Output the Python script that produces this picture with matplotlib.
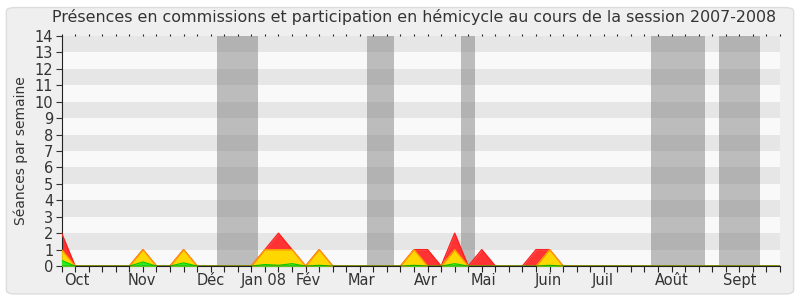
import numpy as np
import matplotlib
matplotlib.use("Agg")
import matplotlib.pyplot as plt
from matplotlib.patches import FancyBboxPatch

# weekly values, session 2007-2008 (week 0 = début octobre)
weeks = np.arange(54)
red_pts = {0: 2, 6: 1, 9: 1, 15: 1, 16: 2, 17: 1, 19: 1, 26: 1, 27: 1, 29: 2, 31: 1, 35: 1, 36: 1}
yellow_pts = {0: 1, 6: 1, 9: 1, 15: 1, 16: 1, 17: 1, 19: 1, 26: 1, 29: 1, 36: 1}
green_pts = {0: 0.35, 6: 0.25, 9: 0.2, 15: 0.1, 16: 0.05, 17: 0.15, 19: 0.05, 26: 0.05, 29: 0.15, 36: 0.05}

red = np.array([red_pts.get(w, 0) for w in weeks], dtype=float)
yellow = np.array([yellow_pts.get(w, 0) for w in weeks], dtype=float)
green = np.array([green_pts.get(w, 0) for w in weeks], dtype=float)

# vacances (semaines)
holidays = [(11.5, 14.5), (22.5, 24.5), (29.5, 30.5), (43.5, 47.5), (48.5, 51.5)]

month_labels = ["Oct", "Nov", "Déc", "Jan 08", "Fév", "Mar", "Avr", "Mai", "Juin", "Juil", "Août", "Sept"]
month_pos = [1.1, 5.95, 11.0, 14.9, 18.2, 22.1, 26.9, 31.1, 35.9, 39.9, 45.0, 50.0]

fig = plt.figure(figsize=(8, 3), dpi=100)
fig.patch.set_facecolor("white")
bg = FancyBboxPatch((0.008, 0.02), 0.984, 0.955, boxstyle="round,pad=0,rounding_size=0.012",
                    transform=fig.transFigure, facecolor="#efefef", edgecolor="#dddddd",
                    linewidth=1, zorder=-10)
fig.patches.append(bg)

ax = fig.add_axes([0.077, 0.113, 0.898, 0.767])
ax.set_facecolor("#f9f9f9")

# bandes horizontales
for y0 in range(1, 14, 2):
    ax.axhspan(y0, y0 + 1, color="#e6e6e6", lw=0, zorder=0)

for a, b in holidays:
    ax.axvspan(a, b, color="#808080", alpha=0.5, lw=0, zorder=1)

ax.fill_between(weeks, 0, red, color="#ff3333", lw=0, zorder=2)
ax.plot(weeks, red, color="#ff2020", lw=1, zorder=3)
ax.fill_between(weeks, 0, yellow, color="#ffd700", lw=0, zorder=4)
ax.plot(weeks, yellow, color="#ff9a00", lw=1, zorder=5)
ax.fill_between(weeks, 0, green, color="#22ee22", lw=0, zorder=6)
ax.plot(weeks, green, color="#00cc00", lw=0.8, zorder=7)
ax.axhline(0, color="#6b1a00", lw=1, zorder=8)

ax.set_xlim(0, 53)
ax.set_ylim(0, 14)
ax.set_yticks(range(15))
ax.tick_params(axis="y", labelsize=10.5, length=4, colors="#333333", pad=2)
ax.set_xticks(range(54))
ax.set_xticklabels([])
ax.tick_params(axis="x", length=4, color="#222222", top=True, direction="out")
for t in ax.xaxis.get_major_ticks():
    t.tick2line.set_markersize(1.2)
for pos, lab in zip(month_pos, month_labels):
    ax.text(pos, -0.4, lab, ha="center", va="top", fontsize=10.5, color="#333333",
            transform=ax.transData)

for s in ["top", "right"]:
    ax.spines[s].set_visible(False)
ax.spines["left"].set_color("#222222")
ax.spines["bottom"].set_color("#222222")

ax.set_ylabel("Séances par semaine", fontsize=10, color="#333333", labelpad=5)
fig.text(0.518, 0.942, "Présences en commissions et participation en hémicycle au cours de la session 2007-2008",
         ha="center", va="center", fontsize=11.4, color="#333333")

fig.savefig("out.png", dpi=100, facecolor=fig.get_facecolor())
